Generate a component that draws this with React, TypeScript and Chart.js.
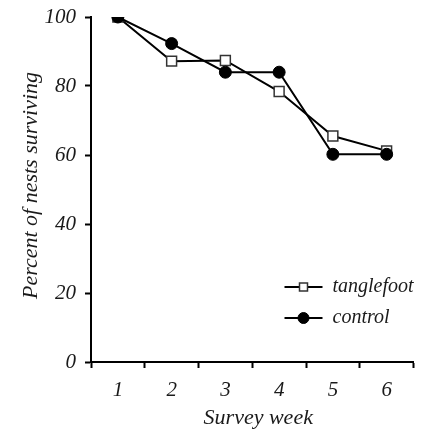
import React, { useEffect, useRef } from "react";
import { Chart, registerables } from "chart.js";

Chart.register(...registerables);

const weeks = ["1", "2", "3", "4", "5", "6"];
const tanglefoot = [100, 87.2, 87.4, 78.4, 65.5, 61.2];
const control = [100, 92.3, 84, 84, 60.2, 60.2];
const yTicks = [0, 20, 40, 60, 80, 100];
const xTitle = "Survey week";
const yTitle = "Percent of nests surviving";

const FONT = "'Liberation Serif', 'Times New Roman', serif";
const TEXT = "#1a1a1a";

const titlesAndLegend = {
  id: "titlesAndLegend",
  afterDraw(chart: any) {
    const { ctx, chartArea } = chart;
    ctx.save();
    ctx.fillStyle = TEXT;
    ctx.font = `italic 22px ${FONT}`;
    ctx.textAlign = "center";
    ctx.textBaseline = "middle";
    ctx.fillText(xTitle, (chartArea.left + chartArea.right) / 2 + 6, 418);
    ctx.restore();

    ctx.save();
    ctx.setTransform(0, -1, 1, 0, 31, (chartArea.top + chartArea.bottom) / 2 - 4);
    ctx.fillStyle = TEXT;
    ctx.font = `italic 22px ${FONT}`;
    ctx.textAlign = "center";
    ctx.textBaseline = "middle";
    ctx.fillText(yTitle, 0, 0);
    ctx.restore();

    ctx.save();
    const entries = [1, 0];
    entries.forEach((dsIndex, i) => {
      const ds = chart.data.datasets[dsIndex];
      const y = chartArea.bottom - 75 + i * 31;
      const x1 = chartArea.right - 129;
      const x2 = x1 + 38;
      const cx = (x1 + x2) / 2;
      ctx.strokeStyle = "#000";
      ctx.lineWidth = 2;
      ctx.beginPath();
      ctx.moveTo(x1, y);
      ctx.lineTo(x2, y);
      ctx.stroke();
      ctx.fillStyle = ds.pointBackgroundColor;
      ctx.strokeStyle = ds.pointBorderColor;
      ctx.lineWidth = ds.pointBorderWidth;
      ctx.beginPath();
      if (ds.pointStyle === "rect") {
        const s = 4;
        ctx.rect(cx - s, y - s, 2 * s, 2 * s);
      } else {
        ctx.arc(cx, y, 5.5, 0, Math.PI * 2);
      }
      ctx.fill();
      ctx.stroke();
      ctx.fillStyle = TEXT;
      ctx.font = `italic 20px ${FONT}`;
      ctx.textBaseline = "middle";
      ctx.textAlign = "left";
      ctx.fillText(ds.label, x2 + 10, y);
    });
    ctx.restore();
  },
};

export default function App() {
  const ref = useRef<HTMLCanvasElement>(null);
  useEffect(() => {
    if (!ref.current) return;
    const chart = new Chart(ref.current, {
      type: "line",
      data: {
        labels: weeks,
        datasets: [
          {
            label: "control",
            data: control,
            borderColor: "#000",
            borderWidth: 2,
            pointStyle: "circle",
            pointRadius: 6,
            pointBackgroundColor: "#000",
            pointBorderColor: "#000",
            pointBorderWidth: 1,
            tension: 0,
          },
          {
            label: "tanglefoot",
            data: tanglefoot,
            borderColor: "#000",
            borderWidth: 2,
            pointStyle: "rect",
            pointRadius: 7,
            pointBackgroundColor: "#fff",
            pointBorderColor: "#333",
            pointBorderWidth: 1.5,
            tension: 0,
          },
        ],
      },
      options: {
        animation: false,
        responsive: true,
        maintainAspectRatio: false,
        layout: { padding: { top: 17, right: 6, left: 0, bottom: 0 } },
        plugins: { legend: { display: false }, tooltip: { enabled: false } },
        scales: {
          x: {
            type: "category",
            offset: true,
            afterFit: (s: any) => {
              s.height = 70;
              s.paddingLeft = 0;
              s.paddingRight = 0;
            },
            grid: {
              offset: true,
              drawOnChartArea: false,
              drawTicks: true,
              tickLength: 6,
              tickWidth: 2,
              color: "#000",
            },
            border: { display: true, color: "#000", width: 2 },
            ticks: {
              color: TEXT,
              padding: 10,
              font: { family: FONT, style: "italic", size: 21 },
            },
            title: { display: false },
          },
          y: {
            min: 0,
            max: 100,
            afterFit: (s: any) => {
              s.width = 91;
              s.paddingTop = 0;
              s.paddingBottom = 0;
            },
            afterBuildTicks: (s: any) => {
              s.ticks = yTicks.map((v) => ({ value: v }));
            },
            grid: {
              drawOnChartArea: false,
              drawTicks: true,
              tickLength: 6,
              tickWidth: 2,
              color: "#000",
            },
            border: { display: true, color: "#000", width: 2 },
            ticks: {
              color: TEXT,
              padding: 9,
              font: { family: FONT, style: "italic", size: 21 },
            },
            title: { display: false },
          },
        },
      },
      plugins: [titlesAndLegend],
    });
    return () => chart.destroy();
  }, []);
  return (
    <div style={{ position: "fixed", left: 0, top: 0, width: 422, height: 432, background: "#fff" }}>
      <canvas ref={ref} />
    </div>
  );
}
